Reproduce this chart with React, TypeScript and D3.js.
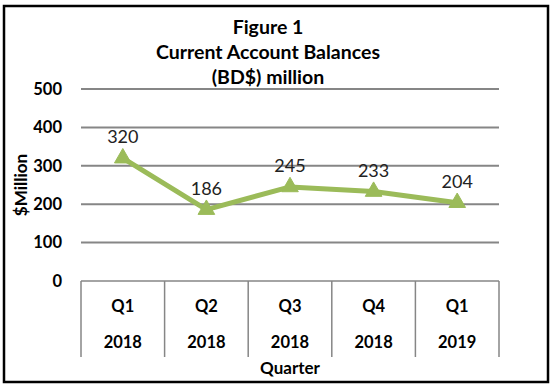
import { useEffect, useRef } from 'react';
import * as d3 from 'd3';

const quarters = ['Q1', 'Q2', 'Q3', 'Q4', 'Q1'];
const years = ['2018', '2018', '2018', '2018', '2019'];
const balances = [320, 186, 245, 233, 204];
const yTicks = [0, 100, 200, 300, 400, 500];
const titleLines = ['Figure 1', 'Current Account Balances', '(BD$) million'];

const W = 554;
const H = 388;
const FONT = 'Lato, "Open Sans", sans-serif';

export default function App() {
  const svgRef = useRef<SVGSVGElement>(null);

  useEffect(() => {
    if (!svgRef.current) return;
    const svg = d3.select(svgRef.current);
    svg.selectAll('*').remove();

    const left = 81;
    const right = 499;
    const top = 89;
    const bottom = 281;

    const idx = balances.map((_, i) => String(i));
    const x = d3.scaleBand().domain(idx).range([left, right]);
    const y = d3.scaleLinear().domain([0, 500]).range([bottom, top]);

    svg.append('rect').attr('width', W).attr('height', H).attr('fill', '#fff');

    // outer frame
    svg
      .append('rect')
      .attr('x', 4)
      .attr('y', 6)
      .attr('width', 544)
      .attr('height', 376)
      .attr('fill', 'none')
      .attr('stroke', '#000')
      .attr('stroke-width', 2.5);

    // gridlines
    svg
      .selectAll('.grid')
      .data(yTicks.filter((t) => t > 0))
      .enter()
      .append('line')
      .attr('x1', left)
      .attr('x2', right)
      .attr('y1', (d) => y(d))
      .attr('y2', (d) => y(d))
      .attr('stroke', '#868686')
      .attr('stroke-width', 2);

    // y tick labels
    svg
      .selectAll('.ylab')
      .data(yTicks)
      .enter()
      .append('text')
      .attr('x', 62)
      .attr('y', (d) => y(d))
      .attr('dy', '0.35em')
      .attr('text-anchor', 'end')
      .style('font-family', FONT)
      .style('font-weight', 'bold')
      .style('font-size', '16.5px')
      .attr('fill', '#000')
      .text((d) => d);

    // x axis + category separators
    svg
      .append('line')
      .attr('x1', left)
      .attr('x2', right)
      .attr('y1', bottom)
      .attr('y2', bottom)
      .attr('stroke', '#868686')
      .attr('stroke-width', 1.5);

    const bounds = idx.map((d) => x(d)!).concat([right]);
    svg
      .selectAll('.sep')
      .data(bounds)
      .enter()
      .append('line')
      .attr('x1', (d) => d)
      .attr('x2', (d) => d)
      .attr('y1', bottom)
      .attr('y2', 357)
      .attr('stroke', '#868686')
      .attr('stroke-width', 1.5);

    const cx = (i: number) => x(String(i))! + x.bandwidth() / 2;

    svg
      .selectAll('.q')
      .data(quarters)
      .enter()
      .append('text')
      .attr('x', (_, i) => cx(i))
      .attr('y', 306)
      .attr('dy', '0.35em')
      .attr('text-anchor', 'middle')
      .style('font-family', FONT)
      .style('font-weight', 'bold')
      .style('font-size', '16.5px')
      .text((d) => d);

    svg
      .selectAll('.yr')
      .data(years)
      .enter()
      .append('text')
      .attr('x', (_, i) => cx(i))
      .attr('y', 342)
      .attr('dy', '0.35em')
      .attr('text-anchor', 'middle')
      .style('font-family', FONT)
      .style('font-weight', 'bold')
      .style('font-size', '16.5px')
      .text((d) => d);

    // axis titles
    svg
      .append('text')
      .attr('x', (left + right) / 2)
      .attr('y', 368)
      .attr('dy', '0.35em')
      .attr('text-anchor', 'middle')
      .style('font-family', FONT)
      .style('font-weight', 'bold')
      .style('font-size', '17px')
      .text('Quarter');

    svg
      .append('text')
      .attr('transform', `translate(21,185) rotate(-90)`)
      .attr('dy', '0.35em')
      .attr('text-anchor', 'middle')
      .style('font-family', FONT)
      .style('font-weight', 'bold')
      .style('font-size', '17px')
      .text('$Million');

    // title
    svg
      .selectAll('.title')
      .data(titleLines)
      .enter()
      .append('text')
      .attr('x', 268)
      .attr('y', (_, i) => 27 + i * 25)
      .attr('dy', '0.35em')
      .attr('text-anchor', 'middle')
      .style('font-family', FONT)
      .style('font-weight', 'bold')
      .style('font-size', '19.5px')
      .text((d) => d);

    // series line
    const line = d3
      .line<number>()
      .x((_, i) => cx(i))
      .y((d) => y(d));

    svg
      .append('path')
      .datum(balances)
      .attr('d', line)
      .attr('fill', 'none')
      .attr('stroke', '#9BBB59')
      .attr('stroke-width', 5)
      .attr('stroke-linejoin', 'round');

    const tri = d3.symbol().type(d3.symbolTriangle).size(120);
    svg
      .selectAll('.pt')
      .data(balances)
      .enter()
      .append('path')
      .attr('d', tri)
      .attr('transform', (d, i) => `translate(${cx(i)},${y(d)})`)
      .attr('fill', '#9BBB59')
      .attr('stroke', '#9BBB59')
      .attr('stroke-width', 1);

    svg
      .selectAll('.dl')
      .data(balances)
      .enter()
      .append('text')
      .attr('x', (_, i) => cx(i))
      .attr('y', (d) => y(d) - 21)
      .attr('dy', '0.35em')
      .attr('text-anchor', 'middle')
      .style('font-family', FONT)
      .style('font-size', '18px')
      .attr('fill', '#222')
      .text((d) => d);
  }, []);

  return (
    <svg
      ref={svgRef}
      width={W}
      height={H}
      style={{ position: 'absolute', left: 0, top: 0, display: 'block' }}
    />
  );
}
